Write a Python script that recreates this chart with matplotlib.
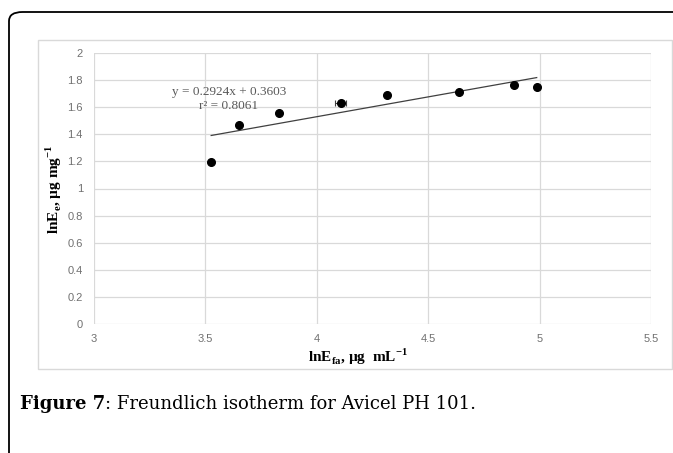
import numpy as np
import matplotlib.pyplot as plt
from matplotlib.patches import FancyBboxPatch, Rectangle

# data
ln_efa = [3.526, 3.652, 3.832, 4.107, 4.317, 4.638, 4.887, 4.987]
ln_ee = [1.193, 1.466, 1.559, 1.629, 1.690, 1.714, 1.766, 1.747]
x_err = [0, 0, 0, 0.025, 0, 0, 0, 0]
slope, intercept = 0.2924, 0.3603

x_ticks = [3, 3.5, 4, 4.5, 5, 5.5]
x_labels = ["3", "3.5", "4", "4.5", "5", "5.5"]
y_ticks = [0, 0.2, 0.4, 0.6, 0.8, 1, 1.2, 1.4, 1.6, 1.8, 2]
y_labels = ["0", "0.2", "0.4", "0.6", "0.8", "1", "1.2", "1.4", "1.6", "1.8", "2"]

plt.rcParams["mathtext.fontset"] = "custom"
plt.rcParams["mathtext.rm"] = "Liberation Serif:bold"

W, H = 673, 453
fig = plt.figure(figsize=(W / 100, H / 100), dpi=100)

# outer frame (rounded top-left corner, open on right/bottom)
frame = FancyBboxPatch((9 / W, -0.2), 1.2, (H - 12) / H + 0.2,
                       boxstyle="round,pad=0,rounding_size=0.02",
                       transform=fig.transFigure, fill=False,
                       edgecolor="black", linewidth=1.3)
fig.patches.append(frame)

# chart area box
box = Rectangle((38 / W, 1 - 369 / H), 634 / W, 329 / H,
                transform=fig.transFigure, fill=False,
                edgecolor="#d9d9d9", linewidth=1)
fig.patches.append(box)

ax = fig.add_axes([94 / W, 1 - 324 / H, (651 - 94) / W, (324 - 53) / H])
ax.set_xlim(3, 5.5)
ax.set_ylim(0, 2)
ax.set_xticks(x_ticks)
ax.set_xticklabels(x_labels)
ax.set_yticks(y_ticks)
ax.set_yticklabels(y_labels)
ax.grid(True, color="#d9d9d9", linewidth=0.9)
ax.set_axisbelow(True)
for s in ax.spines.values():
    s.set_visible(False)
ax.tick_params(length=0, labelsize=8, labelcolor="#707070")
ax.tick_params(axis="y", pad=8)
ax.tick_params(axis="x", pad=7)
for lab in ax.get_xticklabels() + ax.get_yticklabels():
    lab.set_family("Liberation Sans")

# trend line
xs = np.array([min(ln_efa), max(ln_efa)])
ax.plot(xs, slope * xs + intercept, color="#404040", linewidth=0.9)

ax.errorbar(ln_efa, ln_ee, xerr=x_err, fmt="o", color="black",
            markersize=5.5, ecolor="#404040", elinewidth=0.8, capsize=2.5, capthick=0.8)

ax.text(3.606, 1.712, "y = 0.2924x + 0.3603", ha="center", va="center",
        fontsize=9.5, color="#595959", family="Liberation Serif")
ax.text(3.606, 1.609, "r² = 0.8061", ha="center", va="center",
        fontsize=9.5, color="#595959", family="Liberation Serif")

fig.text(358 / W, 1 - 357 / H, r"lnE$_{\mathregular{fa}}$, µg  mL$^{\mathregular{-1}}$",
         fontsize=11, fontweight="bold", family="Liberation Serif",
         ha="center", va="center")
fig.text(54 / W, 1 - 189 / H, r"lnE$_{\mathregular{e}}$, µg mg$^{\mathregular{-1}}$",
         fontsize=11, fontweight="bold", family="Liberation Serif",
         ha="center", va="center", rotation=90)

r = fig.canvas.get_renderer()
t1 = fig.text(20 / W, 1 - 409 / H, "Figure 7", fontsize=13, fontweight="bold",
              family="DejaVu Serif", va="baseline")
bb = t1.get_window_extent(renderer=r)
fig.text(bb.x1 / W, 1 - 409 / H, ": Freundlich isotherm for Avicel PH 101.", fontsize=13,
         family="DejaVu Serif", va="baseline")

fig.savefig("out.png", dpi=100)
